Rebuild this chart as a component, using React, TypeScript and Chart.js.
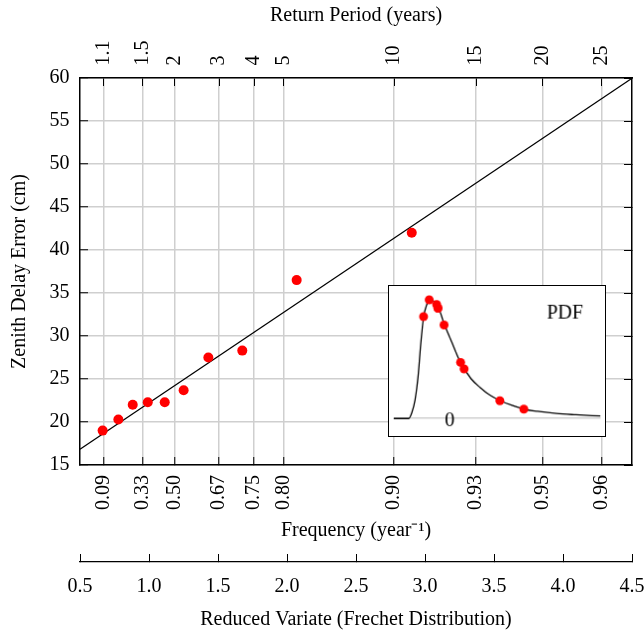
import React, { useEffect, useRef } from 'react';
import { Chart, registerables } from 'chart.js';

Chart.register(...registerables);

// Observations: reduced variate (x), zenith delay error in cm (y), and their PDF value in the inset
const OBS_REDUCED = [0.664, 0.778, 0.882, 0.991, 1.114, 1.251, 1.43, 1.676, 2.07, 2.904];
const OBS_DELAY = [19.0, 20.3, 22.0, 22.3, 22.3, 23.7, 27.5, 28.3, 36.5, 42.0];
const OBS_PDF = [0.109, 0.127, 0.122, 0.118, 0.118, 0.1, 0.06, 0.053, 0.019, 0.01];

// Fitted straight line
const FIT_REDUCED = [0.5, 4.5];
const FIT_DELAY = [16.83, 59.97];

// Positions (in reduced variate) of frequency / return-period ticks
const TICK_REDUCED = [0.67, 0.954, 1.183, 1.509, 1.761, 1.974, 2.777, 3.371, 3.855, 4.28];
const FREQ_LABELS = ['0.09', '0.33', '0.50', '0.67', '0.75', '0.80', '0.90', '0.93', '0.95', '0.96'];
const PERIOD_LABELS = ['1.1', '1.5', '2', '3', '4', '5', '10', '15', '20', '25'];

// Inset PDF curve (x = delay - PDF_ZERO)
const PDF_ZERO = 25;
const PDF_CURVE_X = [-12.9, -10.5, -9.4, -8.7, -7.95, -7.23, -6.64, -5.98, -5.4, -4.89, -4.31, -3.58, -2.63, -1.17, 0.44, 2.48, 4.82, 7.01, 9.2, 11.61, 14.3, 17.02, 20.15, 24.53, 28.92, 34.6];
const PDF_CURVE_Y = [0, 0, 0, 0.006, 0.02, 0.046, 0.08, 0.109, 0.12, 0.126, 0.128, 0.125, 0.119, 0.1, 0.082, 0.06, 0.043, 0.033, 0.025, 0.019, 0.014, 0.01, 0.0077, 0.0053, 0.004, 0.0027];

const FONT_FAMILY = '"Liberation Serif", "Times New Roman", serif';
const GRID = '#cfcfcf';

export default function App() {
  const mainRef = useRef<HTMLCanvasElement>(null);
  const insetRef = useRef<HTMLCanvasElement>(null);

  useEffect(() => {
    const font = { family: FONT_FAMILY, size: 20 };
    const setTicks = (s: any) => {
      s.ticks = TICK_REDUCED.map((v) => ({ value: v }));
    };
    const fitH = (h: number) => (s: any) => {
      s.height = h;
      s.paddingLeft = 0;
      s.paddingRight = 0;
    };
    const fitW = (w: number) => (s: any) => {
      s.width = w;
      s.paddingTop = 0;
      s.paddingBottom = 0;
    };

    const main = new Chart(mainRef.current as HTMLCanvasElement, {
      type: 'scatter',
      data: {
        datasets: [
          {
            data: OBS_REDUCED.map((x, i) => ({ x, y: OBS_DELAY[i] })),
            backgroundColor: '#ff0000',
            borderWidth: 0,
            pointRadius: 5,
            order: 0,
          },
          {
            data: FIT_REDUCED.map((x, i) => ({ x, y: FIT_DELAY[i] })),
            showLine: true,
            borderColor: '#000',
            borderWidth: 1.2,
            pointRadius: 0,
            order: 1,
          },
        ],
      },
      options: {
        animation: false,
        responsive: false,
        layout: { padding: 0 },
        plugins: { legend: { display: false }, tooltip: { enabled: false } },
        scales: {
          x: {
            type: 'linear',
            position: 'bottom',
            min: 0.5,
            max: 4.5,
            afterBuildTicks: setTicks,
            afterFit: fitH(97),
            ticks: {
              callback: (_v: any, i: number) => FREQ_LABELS[i],
              minRotation: 90,
              maxRotation: 90,
              autoSkip: false,
              padding: 18,
              font,
              color: '#000',
            },
            grid: { color: GRID, lineWidth: 1.5, tickColor: '#000', tickLength: -8, tickWidth: 1 },
            border: { color: '#000', width: 1.5 },
            title: { display: true, text: 'Frequency (year⁻¹)', font, color: '#000', padding: { top: 0, bottom: 19 } },
          },
          xr: {
            type: 'linear',
            position: 'bottom',
            min: 0.5,
            max: 4.5,
            afterFit: fitH(79),
            ticks: {
              stepSize: 0.5,
              callback: (v: any) => Number(v).toFixed(1),
              maxRotation: 0,
              autoSkip: false,
              padding: 21,
              font,
              color: '#000',
            },
            grid: { drawOnChartArea: false, color: '#000', tickLength: -8, tickWidth: 1 },
            border: { color: '#000', width: 1.2 },
            title: { display: true, text: 'Reduced Variate (Frechet Distribution)', font, color: '#000', padding: { top: 0, bottom: 9 } },
          },
          xt: {
            type: 'linear',
            position: 'top',
            min: 0.5,
            max: 4.5,
            afterBuildTicks: setTicks,
            afterFit: fitH(78),
            ticks: {
              callback: (_v: any, i: number) => PERIOD_LABELS[i],
              minRotation: 90,
              maxRotation: 90,
              autoSkip: false,
              padding: 20.5,
              labelOffset: 24,
              font,
              color: '#000',
            },
            grid: { drawOnChartArea: false, color: '#000', tickLength: -8, tickWidth: 1 },
            border: { color: '#000', width: 1.5 },
            title: { display: true, text: 'Return Period (years)', font, color: '#000', padding: { top: 4, bottom: 0 } },
          },
          y: {
            type: 'linear',
            position: 'left',
            min: 15,
            max: 60,
            afterFit: fitW(80),
            ticks: { stepSize: 5, padding: 18.5, font, color: '#000' },
            grid: { color: GRID, lineWidth: 1.5, tickColor: '#000', tickLength: -8, tickWidth: 1 },
            border: { color: '#000', width: 1.5 },
            title: { display: true, text: 'Zenith Delay Error (cm)', font, color: '#000', padding: { top: 7.5, bottom: 0 } },
          },
          yr: {
            type: 'linear',
            position: 'right',
            min: 15,
            max: 60,
            afterFit: fitW(12),
            ticks: { stepSize: 5, display: false },
            grid: { drawOnChartArea: false, color: '#000', tickLength: -8, tickWidth: 1 },
            border: { color: '#000', width: 1.5 },
          },
        },
      } as any,
    });

    const pdfLabel = {
      id: 'pdfLabel',
      afterDraw(chart: any) {
        const { ctx, chartArea } = chart;
        ctx.save();
        ctx.font = `20px ${FONT_FAMILY}`;
        ctx.fillStyle = '#000';
        ctx.textAlign = 'center';
        ctx.textBaseline = 'middle';
        ctx.fillText('PDF', chartArea.right - 36, chartArea.top + 23);
        ctx.restore();
      },
    };

    const inset = new Chart(insetRef.current as HTMLCanvasElement, {
      type: 'line',
      data: {
        datasets: [
          {
            type: 'scatter',
            data: OBS_DELAY.map((d, i) => ({ x: d - PDF_ZERO, y: OBS_PDF[i] })),
            backgroundColor: '#ff0000',
            borderWidth: 0,
            pointRadius: 4.5,
            showLine: false,
            order: 0,
          },
          {
            data: PDF_CURVE_X.map((x, i) => ({ x, y: PDF_CURVE_Y[i] })),
            borderColor: '#000',
            borderWidth: 1.3,
            pointRadius: 0,
            cubicInterpolationMode: 'monotone',
            fill: false,
            order: 1,
          },
        ],
      },
      options: {
        animation: false,
        responsive: false,
        layout: { padding: 0 },
        plugins: { legend: { display: false }, tooltip: { enabled: false } },
        scales: {
          x: {
            type: 'linear',
            min: -12.9,
            max: 34.6,
            position: { y: 0 },
            afterBuildTicks: (s: any) => { s.ticks = [{ value: 0 }]; },
            ticks: { callback: () => '0', padding: -9.5, maxRotation: 0, autoSkip: false, font, color: '#000' },
            grid: { display: false, drawTicks: false },
            border: { display: false },
          },
          y: {
            type: 'linear',
            min: -0.014,
            max: 0.137,
            afterBuildTicks: (s: any) => { s.ticks = [{ value: 0 }]; },
            afterFit: (s: any) => { s.width = 0; },
            ticks: { display: false },
            grid: { color: GRID, lineWidth: 1.5, drawTicks: false },
            border: { display: false },
          },
        },
      } as any,
      plugins: [pdfLabel],
    });

    return () => {
      main.destroy();
      inset.destroy();
    };
  }, []);

  return (
    <div style={{ position: 'fixed', left: 0, top: 0, width: 644, height: 641, background: '#fff' }}>
      <canvas
        ref={mainRef}
        width={644}
        height={641}
        style={{ position: 'absolute', left: 0, top: 0, width: 644, height: 641, display: 'block' }}
      />
      <canvas
        ref={insetRef}
        width={218}
        height={152}
        style={{ position: 'absolute', left: 388, top: 285, width: 218, height: 152, border: '1px solid #000', background: '#fff', display: 'block' }}
      />
    </div>
  );
}
